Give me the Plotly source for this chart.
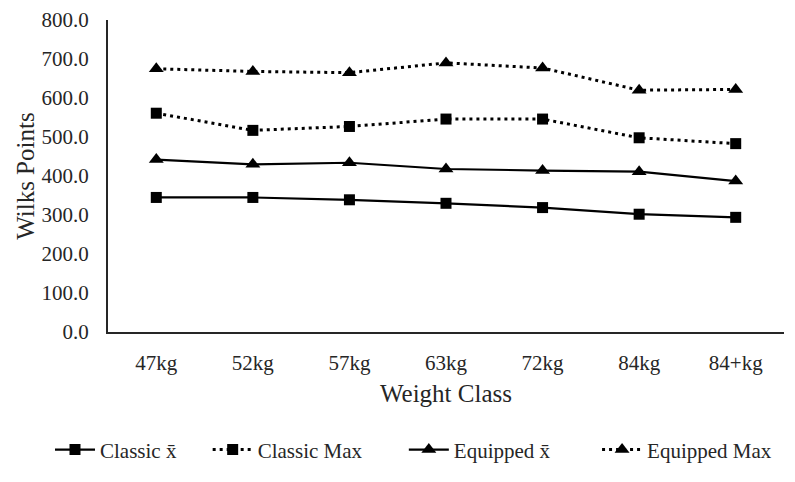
import plotly.graph_objects as go

categories = ["47kg", "52kg", "57kg", "63kg", "72kg", "84kg", "84+kg"]
classic_mean = [345, 345, 339, 330, 319, 302, 294]
classic_max = [561, 517, 527, 546, 546, 498, 483]
equipped_mean = [442, 430, 434, 418, 414, 411, 387]
equipped_max = [675, 668, 665, 690, 677, 620, 622]

y_ticks = [0, 100, 200, 300, 400, 500, 600, 700, 800]

FONT = "Liberation Serif"
TXT = "#262626"
NB = "\u00a0"

fig = go.Figure()

def add(name, vals, symbol, dash, size):
    fig.add_trace(go.Scatter(
        x=categories, y=vals, name=name, mode="lines+markers",
        line=dict(color="black", width=2.2 if dash == "solid" else 3, dash=dash),
        marker=dict(symbol=symbol, size=size, color="black"),
    ))

add("Classic x\u0304" + NB * 5, classic_mean, "square", "solid", 11)
add("Classic Max" + NB * 7, classic_max, "square", "3px,4px", 11)
add("Equipped x\u0304" + NB * 8, equipped_mean, "triangle-up", "solid", 13)
add("Equipped Max", equipped_max, "triangle-up", "3px,4px", 13)

fig.update_layout(
    width=795, height=482,
    margin=dict(l=108, r=11, t=20, b=147),
    plot_bgcolor="white", paper_bgcolor="white",
    font=dict(family=FONT, size=20, color=TXT),
    showlegend=True,
    legend=dict(orientation="h", x=-0.0858, xanchor="left", y=-0.378, yanchor="middle",
                font=dict(family=FONT, size=21, color=TXT), itemwidth=40,
                traceorder="normal"),
    annotations=[dict(
        text="Wilks Points", xref="paper", yref="paper", x=-0.123, y=0.5,
        xanchor="center", yanchor="middle", textangle=-90, showarrow=False,
        font=dict(family=FONT, size=25, color=TXT),
    )],
)
fig.update_xaxes(
    type="category", range=[-0.5, 6.5], automargin=False,
    showline=True, linecolor="#262626", linewidth=2,
    showgrid=False, zeroline=False, ticks="",
    ticklabelstandoff=11,
    tickfont=dict(family=FONT, size=21, color=TXT),
    title=dict(text="Weight Class", font=dict(family=FONT, size=25, color=TXT), standoff=10),
)
fig.update_yaxes(
    range=[0, 800], tickvals=y_ticks, tickformat=".1f", automargin=False,
    showline=True, linecolor="#262626", linewidth=2,
    showgrid=False, zeroline=False, ticks="",
    ticklabelstandoff=13,
    tickfont=dict(family=FONT, size=21, color=TXT),
)

fig.write_html(
    "out.html",
    config={"displayModeBar": False},
    post_script="document.body.style.margin='0';document.documentElement.style.overflow='hidden';",
)
